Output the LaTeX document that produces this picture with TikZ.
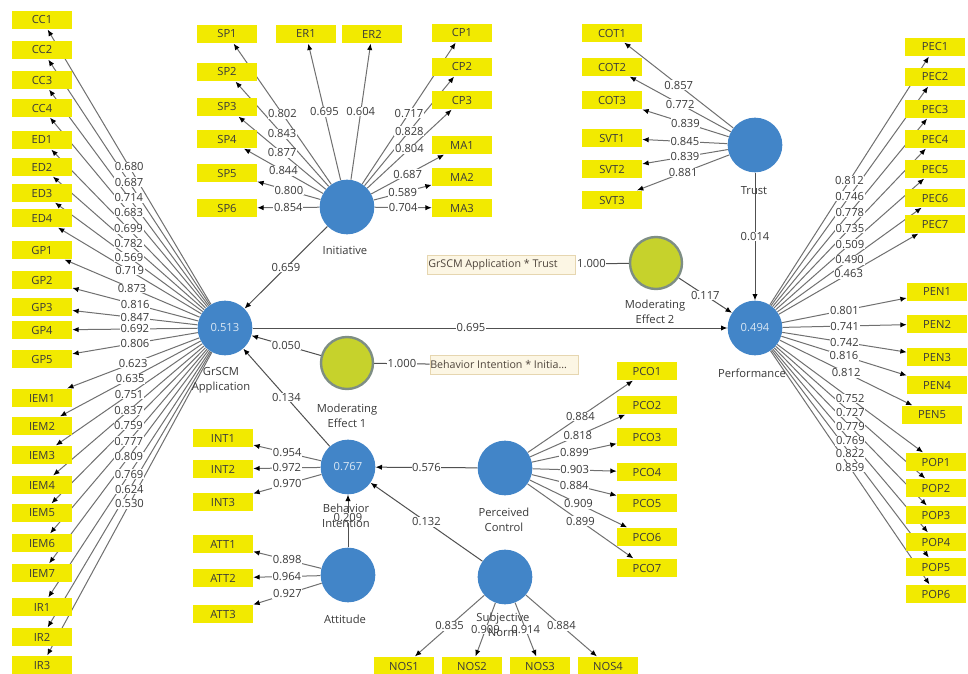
\documentclass[tikz,border=0pt]{standalone}
\usepackage{fontspec}
\setmainfont{Open Sans}
\usetikzlibrary{arrows.meta}
\pgfdeclarelayer{background}
\pgfdeclarelayer{edges}
\pgfdeclarelayer{labels}
\pgfsetlayers{background,edges,labels,main}
\definecolor{boxyellow}{HTML}{F2EA00}
\definecolor{lvblue}{HTML}{4285C8}
\definecolor{modgreen}{HTML}{C6D22C}
\definecolor{modrim}{HTML}{7E8E84}
\definecolor{beigefill}{HTML}{FCF6E4}
\definecolor{beigerim}{HTML}{E6D6B0}
\definecolor{txt}{HTML}{3A3A3A}
\definecolor{edgegray}{HTML}{707070}
\definecolor{edgedark}{HTML}{505050}
\tikzset{
  ibox/.style={fill=boxyellow, minimum width=45pt, minimum height=14pt, inner sep=0pt,
    font=\fontsize{8.4}{9}\selectfont, text=txt},
  lv/.style={circle, fill=lvblue, minimum size=41pt, inner sep=0pt,
    font=\fontsize{8.4}{9}\selectfont, text=white!80!lvblue},
  modc/.style={circle, fill=modgreen, draw=modrim, line width=1.8pt, minimum size=39pt, inner sep=0pt},
  pbox/.style={fill=beigefill, draw=beigerim, line width=0.6pt, minimum height=14.5pt, inner sep=0pt,
    font=\fontsize{8}{9}\selectfont, text=txt!85!brown},
  clab/.style={font=\fontsize{8.4}{11}\selectfont, text=txt, align=center},
  lbl/.style={fill=white, inner sep=0.5pt, font=\fontsize{8.4}{9}\selectfont, text=txt},
  ed/.style={draw=edgegray, line width=0.75pt, -{Latex[length=4.8pt,width=4pt,color=black]}},
  sed/.style={draw=edgedark, line width=0.75pt, -{Latex[length=4.8pt,width=4pt,color=black]}},
  pl/.style={draw=edgedark, line width=0.75pt}
}
\newcounter{lbc}
\newcommand{\ldg}[5][0.5]{%
  \begin{pgfonlayer}{edges}
    \draw[#5] (#2) -- (#3) coordinate[pos=#1] (tmpc);
  \end{pgfonlayer}%
  \stepcounter{lbc}%
  \begin{pgfonlayer}{labels}
    \node[lbl] (lab\arabic{lbc}) at (tmpc) {#4};
  \end{pgfonlayer}}
\begin{document}
\begin{tikzpicture}[x=0.75pt,y=-0.75pt]
\begin{pgfonlayer}{background}
  \fill[white] (0,0) rectangle (968,674);
\end{pgfonlayer}
\useasboundingbox (0,0) rectangle (968,674);
\clip (0,0) rectangle (968,674);

% ---------- latent variables ----------
\node[lv] (gr) at (225,328) {0.513};
\node[lv] (ini) at (347,207) {};
\node[lv] (tru) at (755,145) {};
\node[lv] (perf) at (755,328) {0.494};
\node[lv] (bi) at (348,467) {0.767};
\node[lv] (att) at (348,575) {};
\node[lv] (pc) at (505,468) {};
\node[lv] (sn) at (505,577) {};
\node[modc] (me1) at (347,363) {};
\node[modc] (me2) at (656,263) {};

\node[clab] (grl) at (221,380) {GrSCM\\Application};
\node[clab] (inil) at (345,250) {Initiative};
\node[clab] (trul) at (754,191) {Trust};
\node[clab] (perfl) at (752,373) {Performance};
\node[clab] (me2l) at (655,312) {Moderating\\Effect 2};
\node[clab] (me1l) at (347,416) {Moderating\\Effect 1};
\node[clab] (bil) at (346,516) {Behavior\\Intention};
\node[clab] (attl) at (345,619) {Attitude};
\node[clab] (pcl) at (504,520) {Perceived\\Control};
\node[clab] (snl) at (503,625) {Subjective\\Norm};

\node[pbox, minimum width=111pt] (pb1) at (501,265) {GrSCM Application * Trust\hspace*{12pt}};
\node[pbox, minimum width=111pt] (pb2) at (504,365) {Behavior Intention * Initia...\hspace*{8pt}};

% ---------- indicators: GrSCM ----------
\node[ibox] (cc1) at (42,20) {CC1};
\node[ibox] (cc2) at (42,50) {CC2};
\node[ibox] (cc3) at (42,80) {CC3};
\node[ibox] (cc4) at (42,108) {CC4};
\node[ibox] (ed1) at (42,140) {ED1};
\node[ibox] (ed2) at (42,167) {ED2};
\node[ibox] (ed3) at (42,193) {ED3};
\node[ibox] (ed4) at (42,218) {ED4};
\node[ibox] (gp1) at (42,250) {GP1};
\node[ibox] (gp2) at (42,280) {GP2};
\node[ibox] (gp3) at (42,307) {GP3};
\node[ibox] (gp4) at (42,330) {GP4};
\node[ibox] (gp5) at (42,359) {GP5};
\node[ibox] (iem1) at (42,398) {IEM1};
\node[ibox] (iem2) at (42,426) {IEM2};
\node[ibox] (iem3) at (42,455) {IEM3};
\node[ibox] (iem4) at (42,485) {IEM4};
\node[ibox] (iem5) at (42,513) {IEM5};
\node[ibox] (iem6) at (42,543) {IEM6};
\node[ibox] (iem7) at (42,573) {IEM7};
\node[ibox] (ir1) at (42,607) {IR1};
\node[ibox] (ir2) at (42,637) {IR2};
\node[ibox] (ir3) at (42,665) {IR3};

% ---------- indicators: Initiative ----------
\node[ibox] (sp1) at (227,34) {SP1};
\node[ibox] (sp2) at (227,72) {SP2};
\node[ibox] (sp3) at (227,107) {SP3};
\node[ibox] (sp4) at (227,139) {SP4};
\node[ibox] (sp5) at (227,173) {SP5};
\node[ibox] (sp6) at (227,208) {SP6};
\node[ibox] (er1) at (306,34) {ER1};
\node[ibox] (er2) at (372,34) {ER2};
\node[ibox] (cp1) at (462,33) {CP1};
\node[ibox] (cp2) at (462,67) {CP2};
\node[ibox] (cp3) at (462,100) {CP3};
\node[ibox] (ma1) at (462,145) {MA1};
\node[ibox] (ma2) at (462,177) {MA2};
\node[ibox] (ma3) at (462,208) {MA3};

% ---------- indicators: Trust ----------
\node[ibox] (cot1) at (612,33) {COT1};
\node[ibox] (cot2) at (612,67) {COT2};
\node[ibox] (cot3) at (612,100) {COT3};
\node[ibox] (svt1) at (612,138) {SVT1};
\node[ibox] (svt2) at (612,169) {SVT2};
\node[ibox] (svt3) at (612,200) {SVT3};

% ---------- indicators: Performance ----------
\node[ibox] (pec1) at (935,47) {PEC1};
\node[ibox] (pec2) at (935,77) {PEC2};
\node[ibox] (pec3) at (935,109) {PEC3};
\node[ibox] (pec4) at (935,139) {PEC4};
\node[ibox] (pec5) at (935,169) {PEC5};
\node[ibox] (pec6) at (935,198) {PEC6};
\node[ibox] (pec7) at (935,224) {PEC7};
\node[ibox] (pen1) at (937,292) {PEN1};
\node[ibox] (pen2) at (937,324) {PEN2};
\node[ibox] (pen3) at (937,357) {PEN3};
\node[ibox] (pen4) at (937,385) {PEN4};
\node[ibox] (pen5) at (932,415) {PEN5};
\node[ibox] (pop1) at (936,462) {POP1};
\node[ibox] (pop2) at (936,488) {POP2};
\node[ibox] (pop3) at (936,515) {POP3};
\node[ibox] (pop4) at (936,542) {POP4};
\node[ibox] (pop5) at (936,567) {POP5};
\node[ibox] (pop6) at (936,594) {POP6};

% ---------- indicators: BI, Attitude, PC, SN ----------
\node[ibox] (int1) at (223,438) {INT1};
\node[ibox] (int2) at (223,469) {INT2};
\node[ibox] (int3) at (223,502) {INT3};
\node[ibox] (att1) at (223,544) {ATT1};
\node[ibox] (att2) at (223,578) {ATT2};
\node[ibox] (att3) at (223,614) {ATT3};
\node[ibox] (pco1) at (647,371) {PCO1};
\node[ibox] (pco2) at (647,405) {PCO2};
\node[ibox] (pco3) at (647,437) {PCO3};
\node[ibox] (pco4) at (647,472) {PCO4};
\node[ibox] (pco5) at (647,503) {PCO5};
\node[ibox] (pco6) at (647,537) {PCO6};
\node[ibox] (pco7) at (647,568) {PCO7};
\node[ibox] (nos1) at (404,666) {NOS1};
\node[ibox] (nos2) at (472,666) {NOS2};
\node[ibox] (nos3) at (540,666) {NOS3};
\node[ibox] (nos4) at (608,666) {NOS4};

% ---------- outer loadings ----------
\ldg{gr}{cc1}{0.680}{ed}
\ldg{gr}{cc2}{0.687}{ed}
\ldg{gr}{cc3}{0.714}{ed}
\ldg{gr}{cc4}{0.683}{ed}
\ldg{gr}{ed1}{0.699}{ed}
\ldg{gr}{ed2}{0.782}{ed}
\ldg{gr}{ed3}{0.569}{ed}
\ldg{gr}{ed4}{0.719}{ed}
\ldg{gr}{gp1}{0.873}{ed}
\ldg{gr}{gp2}{0.816}{ed}
\ldg{gr}{gp3}{0.847}{ed}
\ldg{gr}{gp4}{0.692}{ed}
\ldg{gr}{gp5}{0.806}{ed}
\ldg{gr}{iem1}{0.623}{ed}
\ldg{gr}{iem2}{0.635}{ed}
\ldg{gr}{iem3}{0.751}{ed}
\ldg{gr}{iem4}{0.837}{ed}
\ldg{gr}{iem5}{0.759}{ed}
\ldg{gr}{iem6}{0.777}{ed}
\ldg{gr}{iem7}{0.809}{ed}
\ldg{gr}{ir1}{0.769}{ed}
\ldg{gr}{ir2}{0.624}{ed}
\ldg{gr}{ir3}{0.530}{ed}

\ldg{ini}{sp1}{0.802}{ed}
\ldg{ini}{sp2}{0.843}{ed}
\ldg{ini}{sp3}{0.877}{ed}
\ldg{ini}{sp4}{0.844}{ed}
\ldg{ini}{sp5}{0.800}{ed}
\ldg{ini}{sp6}{0.854}{ed}
\ldg{ini}{er1}{0.695}{ed}
\ldg{ini}{er2}{0.604}{ed}
\ldg{ini}{cp1}{0.717}{ed}
\ldg{ini}{cp2}{0.828}{ed}
\ldg{ini}{cp3}{0.804}{ed}
\ldg{ini}{ma1}{0.687}{ed}
\ldg{ini}{ma2}{0.589}{ed}
\ldg{ini}{ma3}{0.704}{ed}

\ldg{tru}{cot1}{0.857}{ed}
\ldg{tru}{cot2}{0.772}{ed}
\ldg{tru}{cot3}{0.839}{ed}
\ldg{tru}{svt1}{0.845}{ed}
\ldg{tru}{svt2}{0.839}{ed}
\ldg{tru}{svt3}{0.881}{ed}

\ldg{perf}{pec1}{0.812}{ed}
\ldg{perf}{pec2}{0.746}{ed}
\ldg{perf}{pec3}{0.778}{ed}
\ldg{perf}{pec4}{0.735}{ed}
\ldg{perf}{pec5}{0.509}{ed}
\ldg{perf}{pec6}{0.490}{ed}
\ldg{perf}{pec7}{0.463}{ed}
\ldg{perf}{pen1}{0.801}{ed}
\ldg{perf}{pen2}{0.741}{ed}
\ldg{perf}{pen3}{0.742}{ed}
\ldg{perf}{pen4}{0.816}{ed}
\ldg{perf}{pen5}{0.812}{ed}
\ldg{perf}{pop1}{0.752}{ed}
\ldg{perf}{pop2}{0.727}{ed}
\ldg{perf}{pop3}{0.779}{ed}
\ldg{perf}{pop4}{0.769}{ed}
\ldg{perf}{pop5}{0.822}{ed}
\ldg{perf}{pop6}{0.859}{ed}

\ldg{bi}{int1}{0.954}{ed}
\ldg{bi}{int2}{0.972}{ed}
\ldg{bi}{int3}{0.970}{ed}
\ldg{att}{att1}{0.898}{ed}
\ldg{att}{att2}{0.964}{ed}
\ldg{att}{att3}{0.927}{ed}

\ldg{pc}{pco1}{0.884}{ed}
\ldg{pc}{pco2}{0.818}{ed}
\ldg{pc}{pco3}{0.899}{ed}
\ldg{pc}{pco4}{0.903}{ed}
\ldg{pc}{pco5}{0.884}{ed}
\ldg{pc}{pco6}{0.909}{ed}
\ldg{pc}{pco7}{0.899}{ed}

\ldg{sn}{nos1}{0.835}{ed}
\ldg{sn}{nos2}{0.909}{ed}
\ldg{sn}{nos3}{0.914}{ed}
\ldg{sn}{nos4}{0.884}{ed}

% ---------- inner model ----------
\ldg{ini}{gr}{0.659}{sed}
\ldg[0.46]{gr}{perf}{0.695}{sed}
\ldg{tru}{perf}{0.014}{sed}
\ldg{me2}{perf}{0.117}{sed}
\ldg{me1}{gr}{0.050}{sed}
\ldg{bi}{gr}{0.134}{sed}
\ldg{pc}{bi}{0.576}{sed}
\ldg[0.56]{att}{bi}{0.209}{sed}
\ldg{sn}{bi}{0.132}{sed}
\ldg[0.3]{pb1}{me2}{1.000}{pl}
\ldg{me1}{pb2}{1.000}{pl}
\end{tikzpicture}
\end{document}
